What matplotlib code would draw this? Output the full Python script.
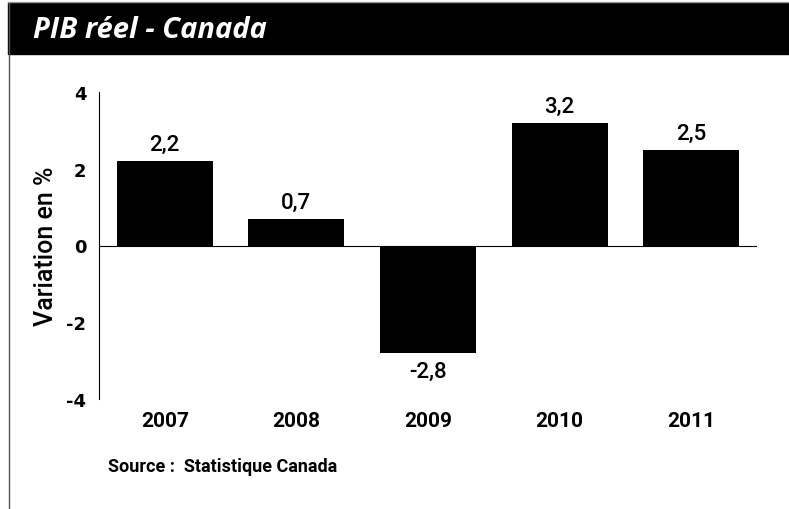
import matplotlib.pyplot as plt
from matplotlib.patches import Rectangle
from matplotlib.lines import Line2D

years = ["2007", "2008", "2009", "2010", "2011"]
values = [2.2, 0.7, -2.8, 3.2, 2.5]
labels = ["2,2", "0,7", "-2,8", "3,2", "2,5"]
yticks = [-4, -2, 0, 2, 4]

narrow = ["Roboto", "DejaVu Sans"]

fig = plt.figure(figsize=(7.89, 5.10), dpi=100)

# header band and frame lines
fig.patches.append(Rectangle((8 / 789, 1 - 55 / 510), 1, 51 / 510,
                             transform=fig.transFigure, color="black", zorder=0))
fig.lines.append(Line2D([9 / 789, 9 / 789], [0, 1 - 4 / 510],
                        transform=fig.transFigure, color="#555555", lw=1))
fig.lines.append(Line2D([8 / 789, 1], [1 - 3 / 510, 1 - 3 / 510],
                        transform=fig.transFigure, color="#999999", lw=1))
fig.text(33 / 789, 1 - 31 / 510, "PIB réel - Canada", color="white",
         fontsize=21, fontweight="bold", fontstyle="italic",
         family=["Open Sans", "DejaVu Sans"], va="center", ha="left")

ax = fig.add_axes([99 / 789, 110 / 510, 658 / 789, 307 / 510])
x = range(len(years))
ax.bar(x, values, width=0.73, color="black")
ax.set_xlim(-0.5, 4.5)
ax.set_ylim(-4, 4)

for sp in ["top", "right", "bottom"]:
    ax.spines[sp].set_visible(False)
ax.spines["left"].set_linewidth(0.8)
ax.axhline(0, color="black", lw=0.8)

ax.set_yticks(yticks)
ax.set_yticklabels([str(t) for t in yticks], fontsize=13, fontweight="bold",
                   family="DejaVu Sans")
ax.tick_params(axis="y", length=0, pad=9)
ax.set_xticks([])

for i, (v, lab) in enumerate(zip(values, labels)):
    if v >= 0:
        ax.text(i, v + 0.15, lab, ha="center", va="bottom", fontsize=16,
                fontweight="medium", family=narrow)
    else:
        ax.text(i, v - 0.2, lab, ha="center", va="top", fontsize=16,
                fontweight="medium", family=narrow)
    ax.text(i, -4.3, years[i], ha="center", va="top", fontsize=15,
            fontweight="bold", family=narrow)

ax.set_ylabel("Variation en %", fontsize=18, fontweight="medium",
              family=narrow, labelpad=6)

fig.text(108 / 789, 1 - 467 / 510, "Source :  Statistique Canada",
         fontsize=13, fontweight="bold", family=narrow, va="center")

fig.savefig("out.png", dpi=100)
